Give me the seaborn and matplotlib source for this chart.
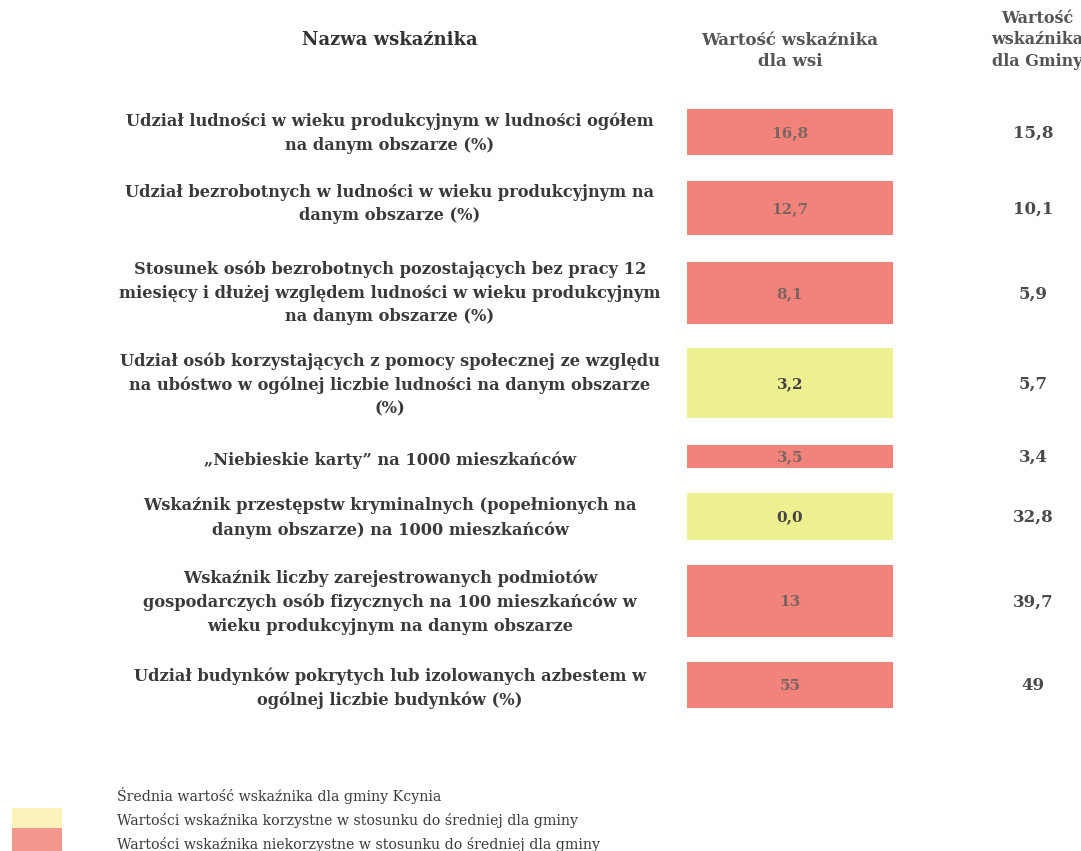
import matplotlib
matplotlib.use("Agg")
import matplotlib.pyplot as plt
import seaborn as sns

# ---- data ----
indicators = [
    "Udział ludności w wieku produkcyjnym w ludności ogółem\nna danym obszarze (%)",
    "Udział bezrobotnych w ludności w wieku produkcyjnym na\ndanym obszarze (%)",
    "Stosunek osób bezrobotnych pozostających bez pracy 12\nmiesięcy i dłużej względem ludności w wieku produkcyjnym\nna danym obszarze (%)",
    "Udział osób korzystających z pomocy społecznej ze względu\nna ubóstwo w ogólnej liczbie ludności na danym obszarze\n(%)",
    "„Niebieskie karty” na 1000 mieszkańców",
    "Wskaźnik przestępstw kryminalnych (popełnionych na\ndanym obszarze) na 1000 mieszkańców",
    "Wskaźnik liczby zarejestrowanych podmiotów\ngospodarczych osób fizycznych na 100 mieszkańców w\nwieku produkcyjnym na danym obszarze",
    "Udział budynków pokrytych lub izolowanych azbestem w\nogólnej liczbie budynków (%)",
]
wsi_values = ["16,8", "12,7", "8,1", "3,2", "3,5", "0,0", "13", "55"]
gmina_values = ["15,8", "10,1", "5,9", "5,7", "3,4", "32,8", "39,7", "49"]
status = ["niekorzystne", "niekorzystne", "niekorzystne", "korzystne",
          "niekorzystne", "korzystne", "niekorzystne", "niekorzystne"]

headers = ["Nazwa wskaźnika", "Wartość wskaźnika\ndla wsi", "Wartość\nwskaźnika\ndla Gminy"]
legend_labels = [
    "Średnia wartość wskaźnika dla gminy Kcynia",
    "Wartości wskaźnika korzystne w stosunku do średniej dla gminy",
    "Wartości wskaźnika niekorzystne w stosunku do średniej dla gminy",
]

# ---- layout / style ----
row_centers = [132, 208, 293, 383, 456, 516, 601, 685]
cell_heights = [46, 54, 62, 70, 23, 47, 72, 46]
label_centers = [133, 204, 293, 385, 460, 518, 602, 688]
cell_left, cell_width = 687, 206
label_x, wsi_x, gmina_x = 390, 790, 1033
cell_colors = {"niekorzystne": "#f1837b", "korzystne": "#ecf08e"}
legend_colors = ["#fcf3bb", "#f3978e"]

sns.set_theme(style="white")
serif = ["DejaVu Serif"]
plt.rcParams["font.family"] = serif

fig = plt.figure(figsize=(10.81, 8.51), dpi=100)
ax = fig.add_axes([0, 0, 1, 1])
ax.set_xlim(0, 1081)
ax.set_ylim(851, 0)
ax.axis("off")

# header
ax.text(label_x, 40, headers[0], ha="center", va="center", fontsize=13,
        fontweight="bold", color="#333333")
ax.text(wsi_x, 51, headers[1], ha="center", va="center", fontsize=12,
        fontweight="bold", color="#555555", linespacing=1.3)
ax.text(gmina_x + 4, 40, headers[2], ha="center", va="center", fontsize=11.5,
        fontweight="bold", color="#555555", linespacing=1.35)

# cells
ax.barh(row_centers, [cell_width] * len(row_centers), left=cell_left,
        height=cell_heights, color=[cell_colors[s] for s in status],
        edgecolor="none")

for lab, yc in zip(indicators, label_centers):
    ax.text(label_x, yc, lab, ha="center", va="center", fontsize=11.7,
            fontweight="bold", color="#3a3a3a", linespacing=1.5)

for v, s, yc in zip(wsi_values, status, row_centers):
    col = "#7d6460" if s == "niekorzystne" else "#444444"
    ax.text(wsi_x, yc + 1, v, ha="center", va="center", fontsize=11,
            fontweight="bold", color=col)

for v, yc in zip(gmina_values, row_centers):
    ax.text(gmina_x, yc + 1, v, ha="center", va="center", fontsize=12,
            fontweight="bold", color="#4a4a4a")

# legend
ax.barh([818, 840], [50, 50], left=12, height=[20, 24], color=legend_colors,
        edgecolor="none")
for lab, yc in zip(legend_labels, [796, 820, 845]):
    ax.text(117, yc, lab, ha="left", va="center", fontsize=10.2,
            color="#3a3a3a")

fig.savefig("out.png", dpi=100)
